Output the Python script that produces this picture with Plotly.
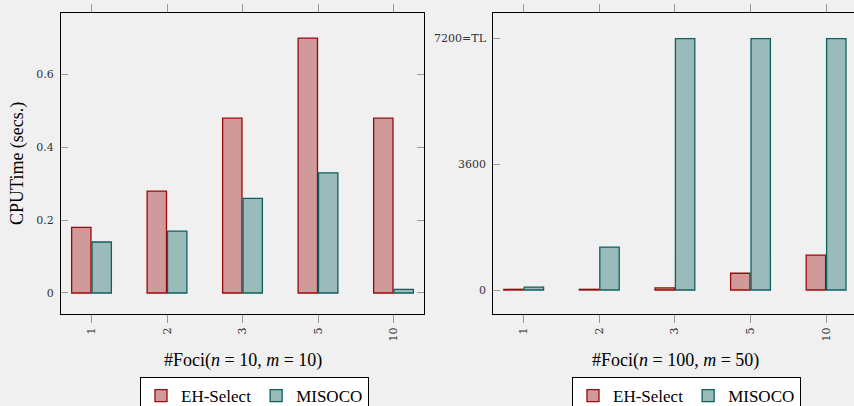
import plotly.graph_objects as go

categories = ["1", "2", "3", "5", "10"]
eh_small = [0.18, 0.28, 0.48, 0.70, 0.48]
misoco_small = [0.14, 0.17, 0.26, 0.33, 0.01]
eh_large = [20, 20, 60, 480, 1000]
misoco_large = [80, 1230, 7200, 7200, 7200]
yticks_small = [0, 0.2, 0.4, 0.6]
yticklabels_small = ["0", "0.2", "0.4", "0.6"]
yticks_large = [0, 3600, 7200]
yticklabels_large = ["0", "3600", "7200=TL"]

EH_FILL = "rgb(208,154,154)"
EH_LINE = "rgb(155,10,10)"
MI_FILL = "rgb(155,187,187)"
MI_LINE = "rgb(15,95,95)"
BG = "#f0f0f0"
SERIF = "Liberation Serif"
TICKFONT = dict(family="DejaVu Serif", size=11, color="#333333")

fig = go.Figure()
fig.add_trace(go.Bar(x=categories, y=eh_small, name="EH-Select", xaxis="x", yaxis="y",
                     marker=dict(color=EH_FILL, line=dict(color=EH_LINE, width=1.3)),
                     legend="legend"))
fig.add_trace(go.Bar(x=categories, y=misoco_small, name="MISOCO", xaxis="x", yaxis="y",
                     marker=dict(color=MI_FILL, line=dict(color=MI_LINE, width=1.3)),
                     legend="legend"))
fig.add_trace(go.Bar(x=categories, y=eh_large, name="EH-Select", xaxis="x2", yaxis="y2",
                     marker=dict(color=EH_FILL, line=dict(color=EH_LINE, width=1.3)),
                     legend="legend2"))
fig.add_trace(go.Bar(x=categories, y=misoco_large, name="MISOCO", xaxis="x2", yaxis="y2",
                     marker=dict(color=MI_FILL, line=dict(color=MI_LINE, width=1.3)),
                     legend="legend2"))

ydom = [1 - 314 / 406, 1 - 13 / 406]
xcommon = dict(type="category", showline=True, linecolor="black", linewidth=1.3,
               mirror="ticks", ticks="outside", ticklen=8, tickcolor="#999999",
               tickangle=-90, tickfont=TICKFONT, showgrid=False, zeroline=False,
               fixedrange=True, automargin=False)
ycommon = dict(showline=True, linecolor="black", linewidth=1.3, ticks="inside",
               ticklen=7, tickcolor="#999999", tickfont=TICKFONT, showgrid=False,
               zeroline=False, ticklabelstandoff=4, automargin=False)

legend_common = dict(orientation="h", xanchor="left", yanchor="top",
                     bgcolor="white", bordercolor="black", borderwidth=1,
                     font=dict(family=SERIF, size=17, color="black"),
                     itemwidth=30, tracegroupgap=0)

fig.update_layout(
    template="none",
    width=854, height=406,
    margin=dict(l=0, r=0, t=0, b=0, autoexpand=False),
    paper_bgcolor=BG, plot_bgcolor=BG,
    barmode="group", bargap=0.46, bargroupgap=0.05,
    xaxis=dict(domain=[61 / 854, 424 / 854], range=[-0.404, 4.404], anchor="y", **xcommon),
    yaxis=dict(domain=ydom, range=[-0.0577, 0.769], anchor="x", mirror="ticks",
               tickvals=yticks_small, ticktext=yticklabels_small, **ycommon),
    xaxis2=dict(domain=[493.3 / 854, 1.0], range=[-0.402, 4.369], anchor="y2", **xcommon),
    yaxis2=dict(domain=ydom, range=[-687, 7933], anchor="x2", mirror=False,
                tickvals=yticks_large, ticktext=yticklabels_large, **ycommon),
    yaxis3=dict(overlaying="y2", side="right", anchor="x2", range=[-687, 7933],
                showline=False, ticks="inside", ticklen=7, tickcolor="#999999",
                tickvals=yticks_large, showticklabels=False, showgrid=False, zeroline=False),
    legend=dict(x=140 / 854, y=1 - 377 / 406, **legend_common),
    legend2=dict(x=572 / 854, y=1 - 377 / 406, **legend_common),
    showlegend=True,
    annotations=[
        dict(text="#Foci(<i>n</i> = 10, <i>m</i> = 10)", xref="paper", yref="paper",
             x=243 / 854, y=1 - 360 / 406, showarrow=False, xanchor="center", yanchor="middle",
             font=dict(family=SERIF, size=18, color="black")),
        dict(text="#Foci(<i>n</i> = 100, <i>m</i> = 50)", xref="paper", yref="paper",
             x=675 / 854, y=1 - 360 / 406, showarrow=False, xanchor="center", yanchor="middle",
             font=dict(family=SERIF, size=18, color="black")),
        dict(text="CPUTime (secs.)", xref="paper", yref="paper", textangle=-90,
             x=18 / 854, y=1 - 164 / 406, showarrow=False, xanchor="center", yanchor="middle",
             font=dict(family=SERIF, size=18, color="black")),
    ],
)

fig.write_html("out.html")
